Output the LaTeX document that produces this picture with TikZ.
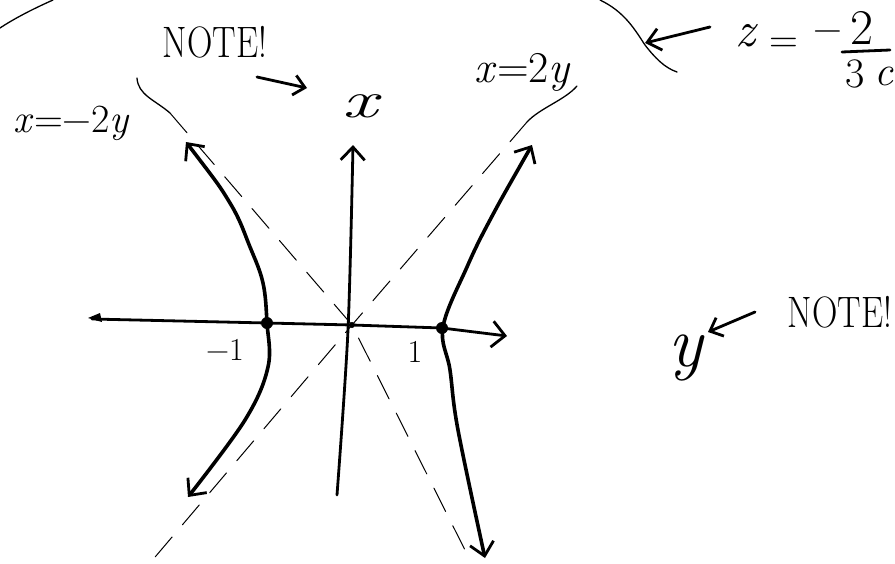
\documentclass[tikz,border=0pt]{standalone}
\usetikzlibrary{arrows.meta}
\begin{document}
\begin{tikzpicture}[x=1pt,y=-1pt,
  curve/.style={line width=3.6pt, line cap=round, line join=round},
  axisline/.style={line width=2.8pt, line cap=round, line join=round},
  asym/.style={line width=1pt, dash pattern=on 26pt off 16pt, line cap=round},
  thinline/.style={line width=1.3pt, line cap=round},
  barb/.style={-{Straight Barb[length=13pt,width=24pt,line width=2.8pt]}},
  barbs/.style={{Straight Barb[length=13pt,width=24pt,line width=2.8pt]}-{Straight Barb[length=13pt,width=24pt,line width=2.8pt]}},
  lab/.style={inner sep=0pt, anchor=center}]
\useasboundingbox (0,0) rectangle (895,563);
\clip (0,0) rectangle (895,563);

% key points
\coordinate (O) at (352,325);
\coordinate (vl) at (267,323);
\coordinate (vr) at (442,328);

% asymptotes (dashed)
\draw[asym] (527,122) -- (O) -- (150,563);
\draw[asym] (170,113) -- (O) -- (470,560);
\draw[thinline] (527,122) .. controls (540,108) and (565,100) .. (577,86);
\draw[thinline] (137,78) .. controls (138,95) and (155,100) .. (170,113);

% axes
\draw[axisline, -{Straight Barb[length=13pt,width=26pt,line width=2.8pt]}]
  (92,319) -- (vl) -- (O) -- (vr) -- (507,336);
\fill (88,318) -- (100,313) -- (102,322) -- cycle;
\draw[axisline, barb] plot[smooth] coordinates {(337,495) (348,330) (353,145)};

% hyperbola branches
\draw[curve, barbs] plot[smooth, tension=0.6] coordinates
  {(186,142) (230,203) (250,247) (263,283) (267,323) (268,367) (245,420) (188,497)};
\draw[curve, barbs] plot[smooth, tension=0.6] coordinates
  {(532,145) (490,220) (467,267) (443,327) (450,370) (458,430) (485,558)};

% dots
\fill (vl) circle (6pt);
\fill (vr) circle (6pt);
\fill (O) circle (3pt);

% axis labels
\node[lab, xscale=1.5, font=\fontsize{52}{52}\selectfont\itshape] (xlab) at (360,106) {x};
\node[lab, font=\fontsize{72}{72}\selectfont\itshape] (ylab) at (686,358) {y};
\node[lab, font=\fontsize{32}{32}\selectfont] (m1) at (225,350) {−1};
\node[lab, font=\fontsize{32}{32}\selectfont] (p1) at (415,352) {1};

% asymptote labels
\node[lab, font=\fontsize{40}{40}\selectfont] (lm) at (72,123) {\textit{x}=−2\textit{y}};
\node[lab, font=\fontsize{44}{44}\selectfont] (lp) at (523,72) {\textit{x}=2\textit{y}};

% notes
\node[lab, xscale=0.8, font=\fontsize{44}{44}\selectfont] (note1) at (215,42) {NOTE!};
\coordinate (n1a) at (257,77);
\coordinate (n1b) at (307,88);
\draw[axisline, -{Straight Barb[length=11pt,width=20pt,line width=2.8pt]}] (n1a) -- (n1b);

\node[lab, xscale=0.8, font=\fontsize{44}{44}\selectfont] (note2) at (840,312) {NOTE!};
\coordinate (n2a) at (755,312);
\coordinate (n2b) at (708,332);
\draw[axisline, -{Straight Barb[length=11pt,width=20pt,line width=2.8pt]}] (n2a) -- (n2b);

% z = -2/3c
\coordinate (za) at (710,27);
\coordinate (zb) at (645,43);
\draw[axisline, -{Straight Barb[length=13pt,width=22pt,line width=2.8pt]}] (za) -- (zb);
\node[lab, font=\fontsize{50}{50}\selectfont\itshape] (zz) at (745,36) {z};
\node[lab, font=\fontsize{40}{40}\selectfont] (eq) at (784,45) {=};
\node[lab, font=\fontsize{40}{40}\selectfont] (mi) at (828,36) {−};
\node[lab, font=\fontsize{50}{50}\selectfont] (two) at (862,28) {2};
\draw[axisline] (842,52) -- (890,50);
\node[lab, font=\fontsize{42}{42}\selectfont] (three) at (855,74) {3};
\node[lab, font=\fontsize{42}{42}\selectfont\itshape] (cc) at (884,76) {c};

% paper edge curves
\draw[thinline] (0,28) .. controls (15,18) and (35,8) .. (53,0);
\draw[thinline] (600,0) .. controls (625,12) and (635,30) .. (645,45) .. controls (655,58) and (665,68) .. (677,72);
\end{tikzpicture}
\end{document}
